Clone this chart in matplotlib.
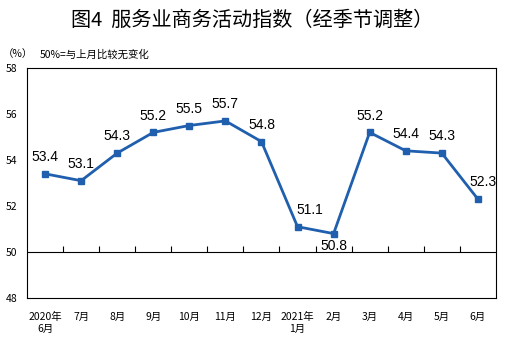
import numpy as np
import matplotlib
matplotlib.use('Agg')
import matplotlib.pyplot as plt

plt.rcParams['font.family'] = ['Noto Sans CJK SC', 'DejaVu Sans']

months = ['2020年\n6月', '7月', '8月', '9月', '10月', '11月', '12月',
          '2021年\n1月', '2月', '3月', '4月', '5月', '6月']
values = [53.4, 53.1, 54.3, 55.2, 55.5, 55.7, 54.8, 51.1, 50.8, 55.2, 54.4, 54.3, 52.3]
yticks = [48, 50, 52, 54, 56, 58]

blue = '#1f5fad'

fig = plt.figure(figsize=(5.05, 3.40), dpi=100)
ax = fig.add_axes([0.0535, 0.1235, 0.9285, 0.6765])

x = np.arange(len(values))
ax.plot(x, values, color=blue, lw=2, marker='s', ms=5, zorder=3)

ax.set_xlim(-0.5, len(values) - 0.5)
ax.set_ylim(48, 58)
ax.set_yticks(yticks)
ax.set_xticks(x)
ax.set_xticklabels(months, fontsize=7, linespacing=1.3)
ax.tick_params(axis='both', length=0, labelsize=7.5)
ax.tick_params(axis='x', pad=10)
ax.tick_params(axis='y', pad=7)
for s in ax.spines.values():
    s.set_linewidth(0.8)

# 50% reference line with ticks between months
ax.axhline(50, color='black', lw=0.8)
ax.vlines(x[:-1] + 0.5, 50, 50.25, color='black', lw=0.8)

# data labels
for i, v in enumerate(values):
    dx, dy, va = 0, 7, 'bottom'
    if v == 50.8:
        dy, va = -4, 'top'
    if v == 51.1:
        dx = 9
    if i == len(values) - 1:
        dx = 4
    ax.annotate(f'{v:.1f}', (i, v), xytext=(dx, dy), textcoords='offset points',
                ha='center', va=va, fontsize=10, family='Liberation Sans')

fig.text(0.5, 0.94, '图4  服务业商务活动指数（经季节调整）', ha='center', va='center',
         fontsize=14.5)
fig.text(0.006, 0.84, '（%）', ha='left', va='center', fontsize=7.5)
fig.text(0.078, 0.84, '50%=与上月比较无变化', ha='left', va='center', fontsize=7.5)

fig.savefig('out.png', dpi=100)
